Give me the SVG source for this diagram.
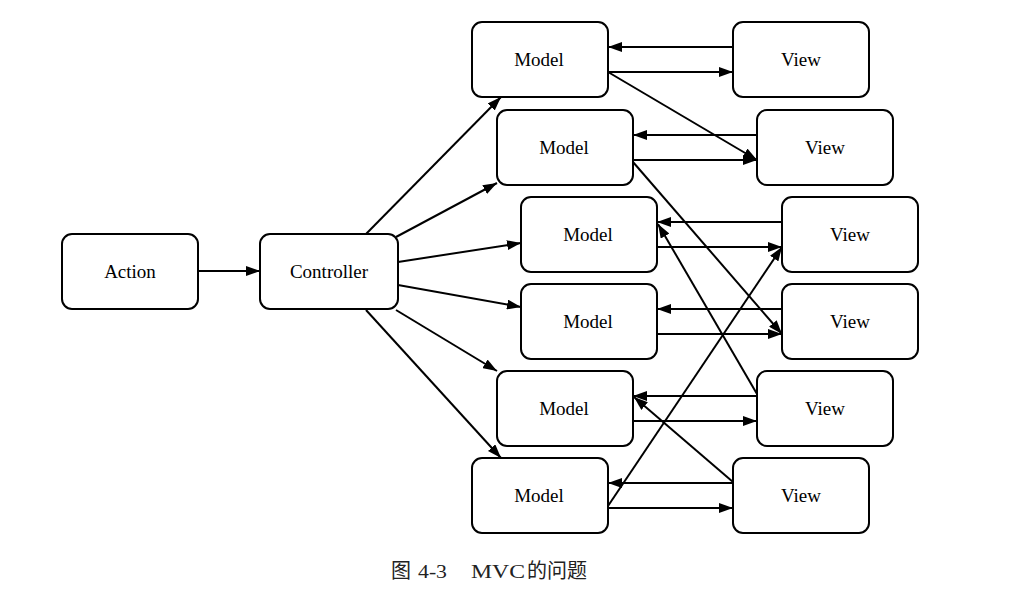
<svg xmlns="http://www.w3.org/2000/svg" width="1012" height="593" viewBox="0 0 1012 593">
<style>
.box{fill:#fff;stroke:#000;stroke-width:2}
.lbl{font-family:"Liberation Serif","Times New Roman",serif;font-size:19px;text-anchor:middle;fill:#000}
.cap{font-family:"Liberation Serif","Noto Sans CJK SC",serif;font-size:18px;fill:#222}
.cjk{font-size:20px}
.c line{stroke:#000;stroke-width:2;marker-end:url(#ah)}
</style>
<defs>
<marker id="ah" viewBox="0 0 14 10" refX="14" refY="5" markerWidth="14" markerHeight="10" markerUnits="userSpaceOnUse" orient="auto">
<path d="M0,0 L14,5 L0,10 Z" fill="#000"/>
</marker>
</defs>
<rect width="1012" height="593" fill="#fff"/>
<g id="connectors" class="c">
<line x1="198" y1="271" x2="260" y2="271"/>
<line x1="366" y1="234" x2="501" y2="97"/>
<line x1="396" y1="237" x2="497" y2="183"/>
<line x1="398" y1="262" x2="521" y2="243"/>
<line x1="398" y1="285" x2="521" y2="307"/>
<line x1="396" y1="310" x2="497" y2="371"/>
<line x1="366" y1="310" x2="501" y2="458"/>
<line x1="733" y1="47" x2="608" y2="47"/>
<line x1="608" y1="72" x2="733" y2="72"/>
<line x1="757" y1="135" x2="633" y2="135"/>
<line x1="633" y1="160" x2="757" y2="160"/>
<line x1="782" y1="222" x2="657" y2="222"/>
<line x1="657" y1="247" x2="782" y2="247"/>
<line x1="782" y1="309" x2="657" y2="309"/>
<line x1="657" y1="334" x2="782" y2="334"/>
<line x1="757" y1="396" x2="633" y2="396"/>
<line x1="633" y1="421" x2="757" y2="421"/>
<line x1="733" y1="483" x2="608" y2="483"/>
<line x1="608" y1="508" x2="733" y2="508"/>
<line x1="608" y1="72" x2="757" y2="160"/>
<line x1="633" y1="162" x2="782" y2="334"/>
<line x1="757" y1="394" x2="658" y2="224"/>
<line x1="608" y1="506" x2="782" y2="247"/>
<line x1="733" y1="482" x2="634" y2="397"/>
</g>
<g id="action"><rect class="box" x="62" y="234" width="136" height="75" rx="10"/><text class="lbl" x="130" y="278">Action</text></g>
<g id="controller"><rect class="box" x="260" y="234" width="138" height="75" rx="10"/><text class="lbl" x="329" y="278">Controller</text></g>
<g id="model1"><rect class="box" x="472" y="22" width="136" height="75" rx="10"/><text class="lbl" x="539" y="66">Model</text></g>
<g id="model2"><rect class="box" x="497" y="110" width="136" height="75" rx="10"/><text class="lbl" x="564" y="154">Model</text></g>
<g id="model3"><rect class="box" x="521" y="197" width="136" height="75" rx="10"/><text class="lbl" x="588" y="241">Model</text></g>
<g id="model4"><rect class="box" x="521" y="284" width="136" height="75" rx="10"/><text class="lbl" x="588" y="328">Model</text></g>
<g id="model5"><rect class="box" x="497" y="371" width="136" height="75" rx="10"/><text class="lbl" x="564" y="415">Model</text></g>
<g id="model6"><rect class="box" x="472" y="458" width="136" height="75" rx="10"/><text class="lbl" x="539" y="502">Model</text></g>
<g id="view1"><rect class="box" x="733" y="22" width="136" height="75" rx="10"/><text class="lbl" x="801" y="66">View</text></g>
<g id="view2"><rect class="box" x="757" y="110" width="136" height="75" rx="10"/><text class="lbl" x="825" y="154">View</text></g>
<g id="view3"><rect class="box" x="782" y="197" width="136" height="75" rx="10"/><text class="lbl" x="850" y="241">View</text></g>
<g id="view4"><rect class="box" x="782" y="284" width="136" height="75" rx="10"/><text class="lbl" x="850" y="328">View</text></g>
<g id="view5"><rect class="box" x="757" y="371" width="136" height="75" rx="10"/><text class="lbl" x="825" y="415">View</text></g>
<g id="view6"><rect class="box" x="733" y="458" width="136" height="75" rx="10"/><text class="lbl" x="801" y="502">View</text></g>
<text class="cap" y="578"><tspan class="cjk" x="391">图</tspan><tspan x="418" textLength="29" lengthAdjust="spacingAndGlyphs">4-3</tspan><tspan x="471" textLength="54" lengthAdjust="spacingAndGlyphs">MVC</tspan><tspan class="cjk" x="527">的问题</tspan></text>
</svg>
